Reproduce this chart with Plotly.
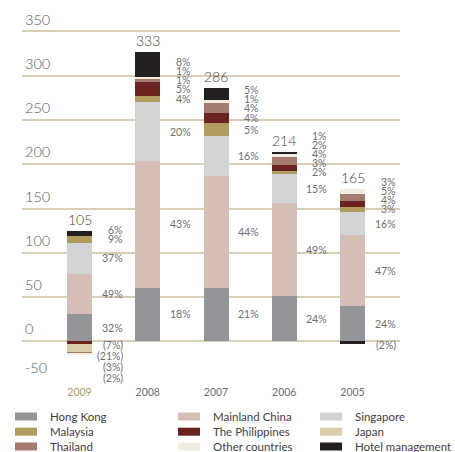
import plotly.graph_objects as go

# ---------------- data ----------------
years = ["2009", "2008", "2007", "2006", "2005"]
totals = [105, 333, 286, 214, 165]
y_ticks = [0, 50, 100, 150, 200, 250, 300, 350]
y_ticks_low = [-50]

series_names = ["Hong Kong", "Mainland China", "Singapore", "Malaysia",
                "The Philippines", "Japan", "Thailand", "Other countries",
                "Hotel management"]
colors = ["#939598", "#d5beb5", "#d1d3d4", "#b09c5f", "#6a231f",
          "#d9ceaa", "#a57a70", "#f1ece0", "#231f20"]

hong_kong   = [31.0, 60.6, 60.6, 51.3, 40.0]
mainland    = [45.1, 142.9, 126.0, 104.5, 79.7]
singapore   = [35.3, 66.5, 44.9, 33.4, 26.6]
malaysia    = [7.9, 6.7, 14.8, 3.3, 5.7]
philippines = [-2.8, 15.8, 11.3, 6.4, 6.7]
japan       = [-9.0, 0, 0, 0, 0]
thailand    = [-2.3, 3.4, 11.6, 9.4, 7.6]
other       = [-1.0, 3.0, 3.0, 3.9, 5.6]
hotel       = [5.6, 27.4, 13.6, 1.8, -3.6]

pct_hong_kong   = ["32%", "18%", "21%", "24%", "24%"]
pct_mainland    = ["49%", "43%", "44%", "49%", "47%"]
pct_singapore   = ["37%", "20%", "16%", "15%", "16%"]
pct_malaysia    = ["9%", "4%", "5%", "2%", "3%"]
pct_philippines = ["(7%)", "5%", "4%", "3%", "4%"]
pct_japan       = ["(21%)", "", "", "", ""]
pct_thailand    = ["(3%)", "1%", "4%", "4%", "5%"]
pct_other       = ["(2%)", "1%", "1%", "2%", "3%"]
pct_hotel       = ["6%", "8%", "5%", "1%", "(2%)"]

values = [hong_kong, mainland, singapore, malaysia, philippines,
          japan, thailand, other, hotel]
pcts = [pct_hong_kong, pct_mainland, pct_singapore, pct_malaysia,
        pct_philippines, pct_japan, pct_thailand, pct_other, pct_hotel]

# ---------------- layout geometry ----------------
W, H = 455, 452
ML, MR, MT, MB = 22, 55, 27, 62
YR = [-55, 355]
XR = [-0.843, 4.696]
PW, PH = W - ML - MR, H - MT - MB

FONT = "Lato"
pos = list(range(len(years)))

fig = go.Figure()
for name, col, vals in zip(series_names, colors, values):
    fig.add_trace(go.Bar(
        x=pos, y=vals, name=name, marker=dict(color=col, line=dict(width=0)),
        width=0.366, showlegend=False, hoverinfo="name+y",
    ))
# empty helper trace so that the secondary (label-only) y axis is drawn
fig.add_trace(go.Scatter(x=[pos[0]], y=[None], yaxis="y2", mode="markers",
                         showlegend=False, hoverinfo="skip"))

annotations = []
pct_font = dict(family=FONT, size=10.5, color="#6d6e71")

# percentage labels
gap_pos, gap_neg = 10.4, 12.4
for i in pos:
    base = 0.0
    prev = None
    for s in range(len(values)):
        v = values[s][i]
        if v > 0:
            mid = base + v / 2
            y = mid if prev is None else max(mid, prev + gap_pos)
            prev = y
            base += v
            if pcts[s][i]:
                annotations.append(dict(x=i, y=y, text=pcts[s][i], xref="x", yref="y",
                                        showarrow=False, xanchor="right", yanchor="middle",
                                        xshift=44, borderpad=0, font=pct_font))
    basen = 0.0
    prevn = gap_neg * 0.62
    for s in range(len(values)):
        v = values[s][i]
        if v < 0:
            mid = basen + v / 2
            y = min(mid, prevn - gap_neg)
            prevn = y
            basen += v
            if pcts[s][i]:
                annotations.append(dict(x=i, y=y, text=pcts[s][i], xref="x", yref="y",
                                        showarrow=False, xanchor="right", yanchor="middle",
                                        xshift=44, borderpad=0, font=pct_font))
    # totals
    top = sum(max(values[s][i], 0) for s in range(len(values)))
    annotations.append(dict(x=i, y=top, text=str(totals[i]), xref="x", yref="y",
                            showarrow=False, xanchor="center", yanchor="bottom", yshift=1,
                            font=dict(family=FONT, size=14, color="#414042", weight=300)))

# manual legend (3 columns x 3 rows)
def px_x(p):
    return (p - ML) / PW

def px_y(p):
    return (H - MB - p) / PH

col_x = [15, 178, 320]
row_y = [416.5, 431.7, 446.5]
shapes = []
for k, (name, col) in enumerate(zip(series_names, colors)):
    r, c = divmod(k, 3)
    shapes.append(dict(type="rect", xref="paper", yref="paper",
                       x0=px_x(col_x[c]), x1=px_x(col_x[c] + 22),
                       y0=px_y(row_y[r] + 4), y1=px_y(row_y[r] - 4),
                       fillcolor=col, line=dict(width=0), layer="above"))
    annotations.append(dict(x=px_x(col_x[c] + 34), y=px_y(row_y[r]), xref="paper", yref="paper",
                            text=name, showarrow=False, xanchor="left", yanchor="middle",
                            borderpad=0,
                            font=dict(family=FONT, size=11.5, color="#414042")))

tick_text = ['<span style="color:#b09a5b">%s</span>' % years[0]] + years[1:]

fig.update_layout(
    width=W, height=H,
    margin=dict(l=ML, r=MR, t=MT, b=MB, pad=0),
    paper_bgcolor="white", plot_bgcolor="white",
    barmode="relative", bargap=0,
    font=dict(family=FONT, color="#58595b"),
    xaxis=dict(range=XR, tickvals=pos, ticktext=tick_text, showgrid=False, zeroline=False,
               showline=False, ticks="", tickfont=dict(family=FONT, size=10.5, color="#6d6e71"),
               ticklabelstandoff=-6),
    yaxis=dict(range=YR, tickvals=y_ticks, ticktext=[str(t) for t in y_ticks],
               showgrid=True, gridcolor="#d9cfb8", gridwidth=1.5, zeroline=False,
               showline=False, ticks="", ticklabelposition="inside", ticklabelshift=-12,
               ticklabeloverflow="allow",
               tickfont=dict(family=FONT, size=14.5, color="#58595b", weight=300)),
    yaxis2=dict(range=YR, overlaying="y", side="left", tickvals=y_ticks_low,
                ticktext=[str(t) for t in y_ticks_low], showgrid=False, zeroline=False,
                showline=False, ticks="", ticklabelposition="inside", ticklabelshift=-18,
                ticklabeloverflow="allow",
                tickfont=dict(family=FONT, size=14.5, color="#58595b", weight=300)),
    annotations=annotations,
    shapes=shapes,
    showlegend=False,
)

fig.write_html("out.html")
